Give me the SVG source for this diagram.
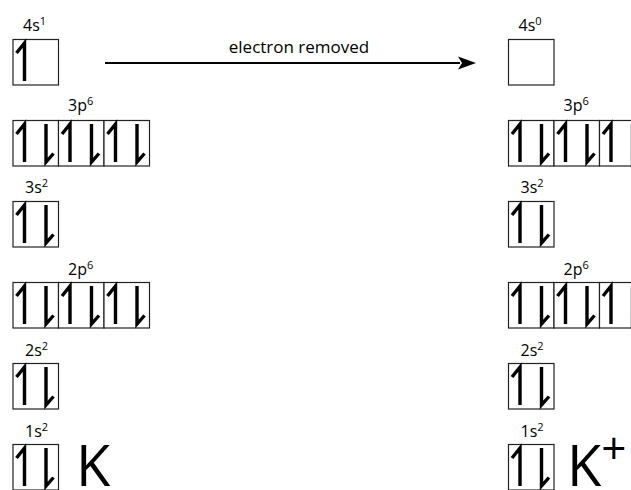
<svg xmlns="http://www.w3.org/2000/svg" width="631" height="490" viewBox="0 0 631 490">
<style>
.bx{fill:#fff;stroke:#222;stroke-width:1.2}
.hp{fill:none;stroke:#000;stroke-width:3.4;stroke-linejoin:miter;stroke-linecap:butt}
.lb{font-family:"Open Sans","DejaVu Sans",sans-serif;font-size:16px;fill:#000}
.sp{font-size:11px}
.big{font-family:"Open Sans","DejaVu Sans",sans-serif;font-size:56px;fill:#000}
</style>
<defs>
<g id="box"><rect class="bx" x="0" y="0" width="45.5" height="45.5"/></g>
<g id="pair"><rect class="bx" x="0" y="0" width="45.5" height="45.5"/>
<path class="hp" d="M11.5,41.5 V3.5 L3.5,13.5"/>
<path class="hp" d="M33,3.5 V41.5 L40.5,33"/></g>
<g id="single"><rect class="bx" x="0" y="0" width="45.5" height="45.5"/>
<path class="hp" d="M11.5,41.5 V3.5 L3.5,13.5"/></g>
</defs>
<g id="connectors">
<line x1="105" y1="63" x2="460" y2="63" stroke="#000" stroke-width="2.2"/>
<path d="M458,56.5 L476,63 L458,69.5 L462,63 Z" fill="#000"/>
<text class="lb" x="299" y="53" text-anchor="middle" style="font-size:17px">electron removed</text>
</g>
<g id="K">
<g id="K-4s"><text class="lb" x="23" y="31">4s<tspan class="sp" dy="-6">1</tspan></text><use href="#single" x="13" y="39.5"/></g>
<g id="K-3p"><text class="lb" x="68" y="111">3p<tspan class="sp" dy="-6">6</tspan></text><use href="#pair" x="13" y="120.5"/><use href="#pair" x="58.5" y="120.5"/><use href="#pair" x="104" y="120.5"/></g>
<g id="K-3s"><text class="lb" x="25" y="193">3s<tspan class="sp" dy="-6">2</tspan></text><use href="#pair" x="13" y="201.5"/></g>
<g id="K-2p"><text class="lb" x="68" y="275">2p<tspan class="sp" dy="-6">6</tspan></text><use href="#pair" x="13" y="282.5"/><use href="#pair" x="58.5" y="282.5"/><use href="#pair" x="104" y="282.5"/></g>
<g id="K-2s"><text class="lb" x="25" y="356">2s<tspan class="sp" dy="-6">2</tspan></text><use href="#pair" x="13" y="363.5"/></g>
<g id="K-1s"><text class="lb" x="25" y="437">1s<tspan class="sp" dy="-6">2</tspan></text><use href="#pair" x="13" y="444.5"/></g>
<text class="big" x="76" y="486">K</text>
</g>
<g id="Kplus">
<g id="Kp-4s"><text class="lb" x="518.5" y="31">4s<tspan class="sp" dy="-6">0</tspan></text><use href="#box" x="508.5" y="39.5"/></g>
<g id="Kp-3p"><text class="lb" x="563.5" y="111">3p<tspan class="sp" dy="-6">6</tspan></text><use href="#pair" x="508.5" y="120.5"/><use href="#pair" x="554" y="120.5"/><use href="#pair" x="599.5" y="120.5"/></g>
<g id="Kp-3s"><text class="lb" x="520.5" y="193">3s<tspan class="sp" dy="-6">2</tspan></text><use href="#pair" x="508.5" y="201.5"/></g>
<g id="Kp-2p"><text class="lb" x="563.5" y="275">2p<tspan class="sp" dy="-6">6</tspan></text><use href="#pair" x="508.5" y="282.5"/><use href="#pair" x="554" y="282.5"/><use href="#pair" x="599.5" y="282.5"/></g>
<g id="Kp-2s"><text class="lb" x="520.5" y="356">2s<tspan class="sp" dy="-6">2</tspan></text><use href="#pair" x="508.5" y="363.5"/></g>
<g id="Kp-1s"><text class="lb" x="520.5" y="437">1s<tspan class="sp" dy="-6">2</tspan></text><use href="#pair" x="508.5" y="444.5"/></g>
<text class="big" x="567" y="486">K<tspan style="font-size:44px" dy="-22">+</tspan></text>
</g>
</svg>
